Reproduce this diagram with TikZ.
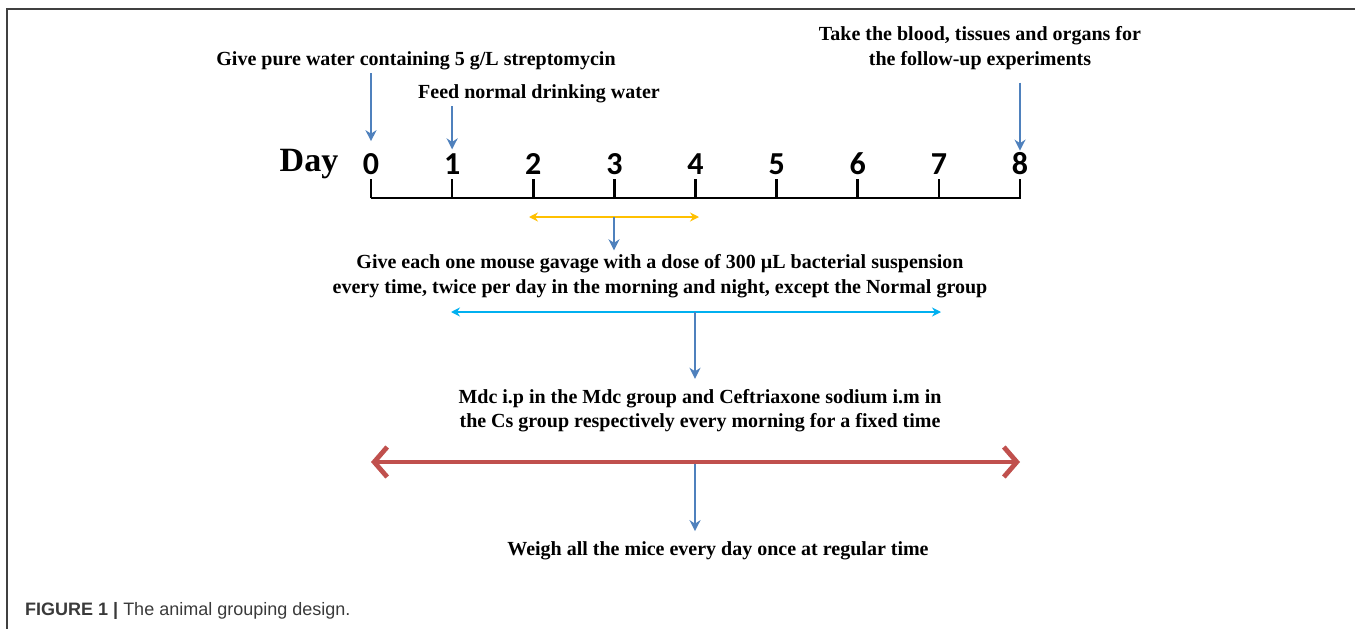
\documentclass[tikz,border=0pt]{standalone}
\usepackage{fontspec}
\setmainfont{Liberation Serif}
\newfontfamily\numfont{Carlito}
\newfontfamily\capfont{Liberation Sans}
\usetikzlibrary{arrows.meta}

\definecolor{stepblue}{HTML}{4F81BD}
\definecolor{spanorange}{HTML}{FFC000}
\definecolor{spancyan}{HTML}{00B0F0}
\definecolor{spanred}{HTML}{C0504D}
\definecolor{framegray}{HTML}{404040}
\definecolor{captext}{HTML}{3A3A3A}

\tikzset{
  txt/.style={font=\fontsize{20}{24.5}\selectfont\bfseries, inner sep=0pt, align=center},
  daynum/.style={font=\numfont\fontsize{32}{32}\selectfont\bfseries, inner sep=0pt},
  dayword/.style={font=\fontsize{34}{34}\selectfont\bfseries, inner sep=0pt},
  axisline/.style={line width=2.6pt, black},
  pointer/.style={draw=stepblue, line width=2.3pt, -{Stealth[length=11pt,width=11pt,inset=3.5pt]}},
  thinspan/.style={line width=2.6pt, {Stealth[length=9pt,width=9pt]}-{Stealth[length=9pt,width=9pt]}},
  thickspan/.style={draw=spanred, line width=4.8pt, line cap=round, line join=round,
    {Straight Barb[length=13pt,width=30pt]}-{Straight Barb[length=13pt,width=30pt]}},
  framerule/.style={draw=framegray, line width=1.8pt},
}

\begin{document}
\begin{tikzpicture}[x=1pt,y=-1pt]
\useasboundingbox (0,0) rectangle (1355,629);

% frame of the figure panel
\draw[framerule] (7,629) -- (7,9) -- (1355,9);

% time axis with day ticks and labels
\foreach \i in {0,...,8} {
  \coordinate (t\i) at ({371+81.125*\i},198);
  \node[daynum] (d\i) at ({371+81.125*\i},164) {\i};
}
\draw[axisline, line join=miter] (t0) -- ++(0,-19) (t0) -- (t8) -- ++(0,-19);
\foreach \i in {1,...,7} \draw[axisline] (t\i) -- ++(0,-19);
\node[dayword] (day) at (309,164) {Day};

% event descriptions
\node[txt] (strep) at (416,60.5) {Give pure water containing 5 g/L streptomycin};
\node[txt] (feed) at (539,93.5) {Feed normal drinking water};
\node[txt] (take) at (980,48) {Take the blood, tissues and organs for\\the follow-up experiments};
\node[txt] (gav) at (660,276) {Give each one mouse gavage with a dose of 300 µL bacterial suspension\\every time, twice per day in the morning and night, except the Normal group};
\node[txt] (mdc) at (700,410.5) {Mdc i.p in the Mdc group and Ceftriaxone sodium i.m in\\the Cs group respectively every morning for a fixed time};
\node[txt] (weigh) at (718,550.5) {Weigh all the mice every day once at regular time};

% pointers onto the axis
\draw[pointer, shorten <=3.5pt, shorten >=12pt] (strep.south -| d0) -- (d0.north);
\draw[pointer, shorten <=3.5pt, shorten >=4pt] (feed.south -| d1) -- (d1.north);
\draw[pointer, shorten <=13pt, shorten >=2pt] (take.south -| d8) -- (d8.north);

% treatment spans
\coordinate (o1) at (529,217);
\coordinate (o2) at (699,217);
\coordinate (om) at (614,217);
\draw[thinspan, draw=spanorange, fill=spanorange] (o1) -- (o2);
\draw[pointer, shorten >=4pt] (om) -- (om |- gav.north);

\coordinate (c1) at (451,312);
\coordinate (c2) at (941,312);
\coordinate (cm) at (695,312);
\draw[thinspan, draw=spancyan, fill=spancyan] (c1) -- (c2);
\draw[pointer, shorten >=10pt] (cm) -- (cm |- mdc.north);

\coordinate (r1) at (371,462);
\coordinate (r2) at (1020,462);
\coordinate (rm) at (695,462);
\draw[thickspan] (r1) -- (r2);
\draw[pointer, shorten <=2pt, shorten >=10pt] (rm) -- (rm |- weigh.north);

% caption
\node[anchor=base west, inner sep=0pt, font=\capfont\fontsize{18}{18}\selectfont, text=captext] (cap) at (25,615)
  {\textbf{FIGURE 1 |} The animal grouping design.};
\end{tikzpicture}
\end{document}
